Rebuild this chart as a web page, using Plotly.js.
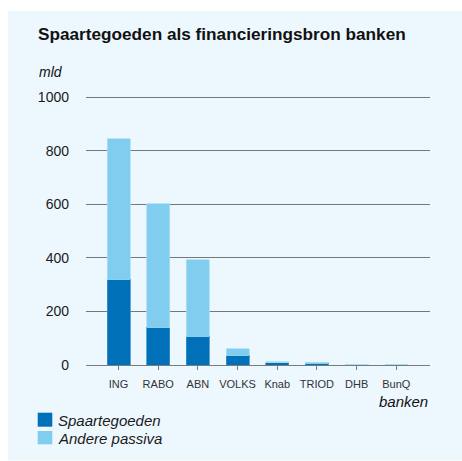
<!DOCTYPE html>
<html>
<head>
<meta charset="utf-8">
<script src="https://cdn.plot.ly/plotly-3.0.1.min.js"></script>
<style>html,body{margin:0;padding:0;background:#fff;}#chart{width:462px;height:461px;}</style>
</head>
<body>
<div id="chart"></div>
<script>
const banks = ["ING", "RABO", "ABN", "VOLKS", "Knab", "TRIOD", "DHB", "BunQ"];
const spaartegoeden = [320, 141, 107, 36, 8, 6, 1.5, 0.8];
const anderePassiva = [526, 461, 287, 24, 5, 4, 1.5, 0.8];
const yTicks = [0, 200, 400, 600, 800, 1000];
const seriesNames = ["Spaartegoeden", "Andere passiva"];
const seriesColors = ["#0070b8", "#80cdf0"];
const seriesLines = ["#3b93cc", "#a9def6"];

const font = "Liberation Sans, Arial, Helvetica, sans-serif";

const traces = [
  {
    type: "bar", name: seriesNames[0], x: banks, y: spaartegoeden,
    marker: {color: seriesColors[0], line: {color: seriesLines[0], width: 0.8}},
    hoverinfo: "skip"
  },
  {
    type: "bar", name: seriesNames[1], x: banks, y: anderePassiva,
    marker: {color: seriesColors[1], line: {color: seriesLines[1], width: 0.8}},
    hoverinfo: "skip"
  }
];

// legend drawn by hand to match the tight 18px item spacing of the reference
const legendSwatchY = [[-0.226, -0.1747], [-0.2905, -0.2418]];
const legendTextY = [-0.2015, -0.2674];
const legendShapes = seriesNames.map((n, i) => ({
  type: "rect", xref: "paper", yref: "paper", layer: "above",
  x0: -0.1404, x1: -0.098, y0: legendSwatchY[i][0], y1: legendSwatchY[i][1],
  fillcolor: seriesColors[i], line: {width: 0}
}));
const legendAnnotations = seriesNames.map((n, i) => ({
  text: n, xref: "paper", yref: "paper", x: -0.0872, y: legendTextY[i],
  xanchor: "left", yanchor: "middle", showarrow: false,
  font: {size: 15, style: "italic", color: "#1a1a1a"}
}));

const layout = {
  width: 462, height: 461,
  margin: {l: 86, r: 32, t: 92, b: 96, autoexpand: false},
  paper_bgcolor: "#ffffff",
  plot_bgcolor: "rgba(0,0,0,0)",
  barmode: "stack",
  bargap: 0.42,
  font: {family: font, color: "#1a1a1a"},
  showlegend: false,
  xaxis: {
    type: "category", range: [-0.82, 7.85],
    showgrid: false, showline: true, linecolor: "#7a7a7a", linewidth: 1,
    ticks: "outside", ticklen: 4, tickcolor: "#7a7a7a",
    tickfont: {size: 11, color: "#333"}, ticklabelstandoff: 5,
    fixedrange: true
  },
  yaxis: {
    range: [0, 1020], tickvals: yTicks,
    showgrid: true, gridcolor: "#777", gridwidth: 1,
    zeroline: false, showline: false, ticks: "",
    tickfont: {size: 14, color: "#1a1a1a"}, ticklabelstandoff: 16,
    fixedrange: true
  },
  shapes: [
    {type: "rect", xref: "paper", yref: "paper", layer: "below",
     x0: -0.2267, x1: 1.095, y0: -0.35, y1: 1.297,
     fillcolor: "#edf7fe", line: {width: 0}}
  ].concat(legendShapes),
  annotations: [
    {text: "<b>Spaartegoeden als financieringsbron banken</b>", xref: "paper", yref: "paper",
     x: -0.145, y: 1.213, xanchor: "left", yanchor: "middle", showarrow: false,
     font: {size: 17.2, color: "#111"}},
    {text: "mld", xref: "paper", yref: "paper", x: -0.143, y: 1.073,
     xanchor: "left", yanchor: "middle", showarrow: false,
     font: {size: 14, style: "italic", color: "#111"}},
    {text: "banken", xref: "paper", yref: "paper", x: 1.0, y: -0.135,
     xanchor: "right", yanchor: "middle", showarrow: false,
     font: {size: 15, style: "italic", color: "#111"}}
  ].concat(legendAnnotations)
};

Plotly.newPlot("chart", traces, layout, {displayModeBar: false, staticPlot: true});
</script>
</body>
</html>
